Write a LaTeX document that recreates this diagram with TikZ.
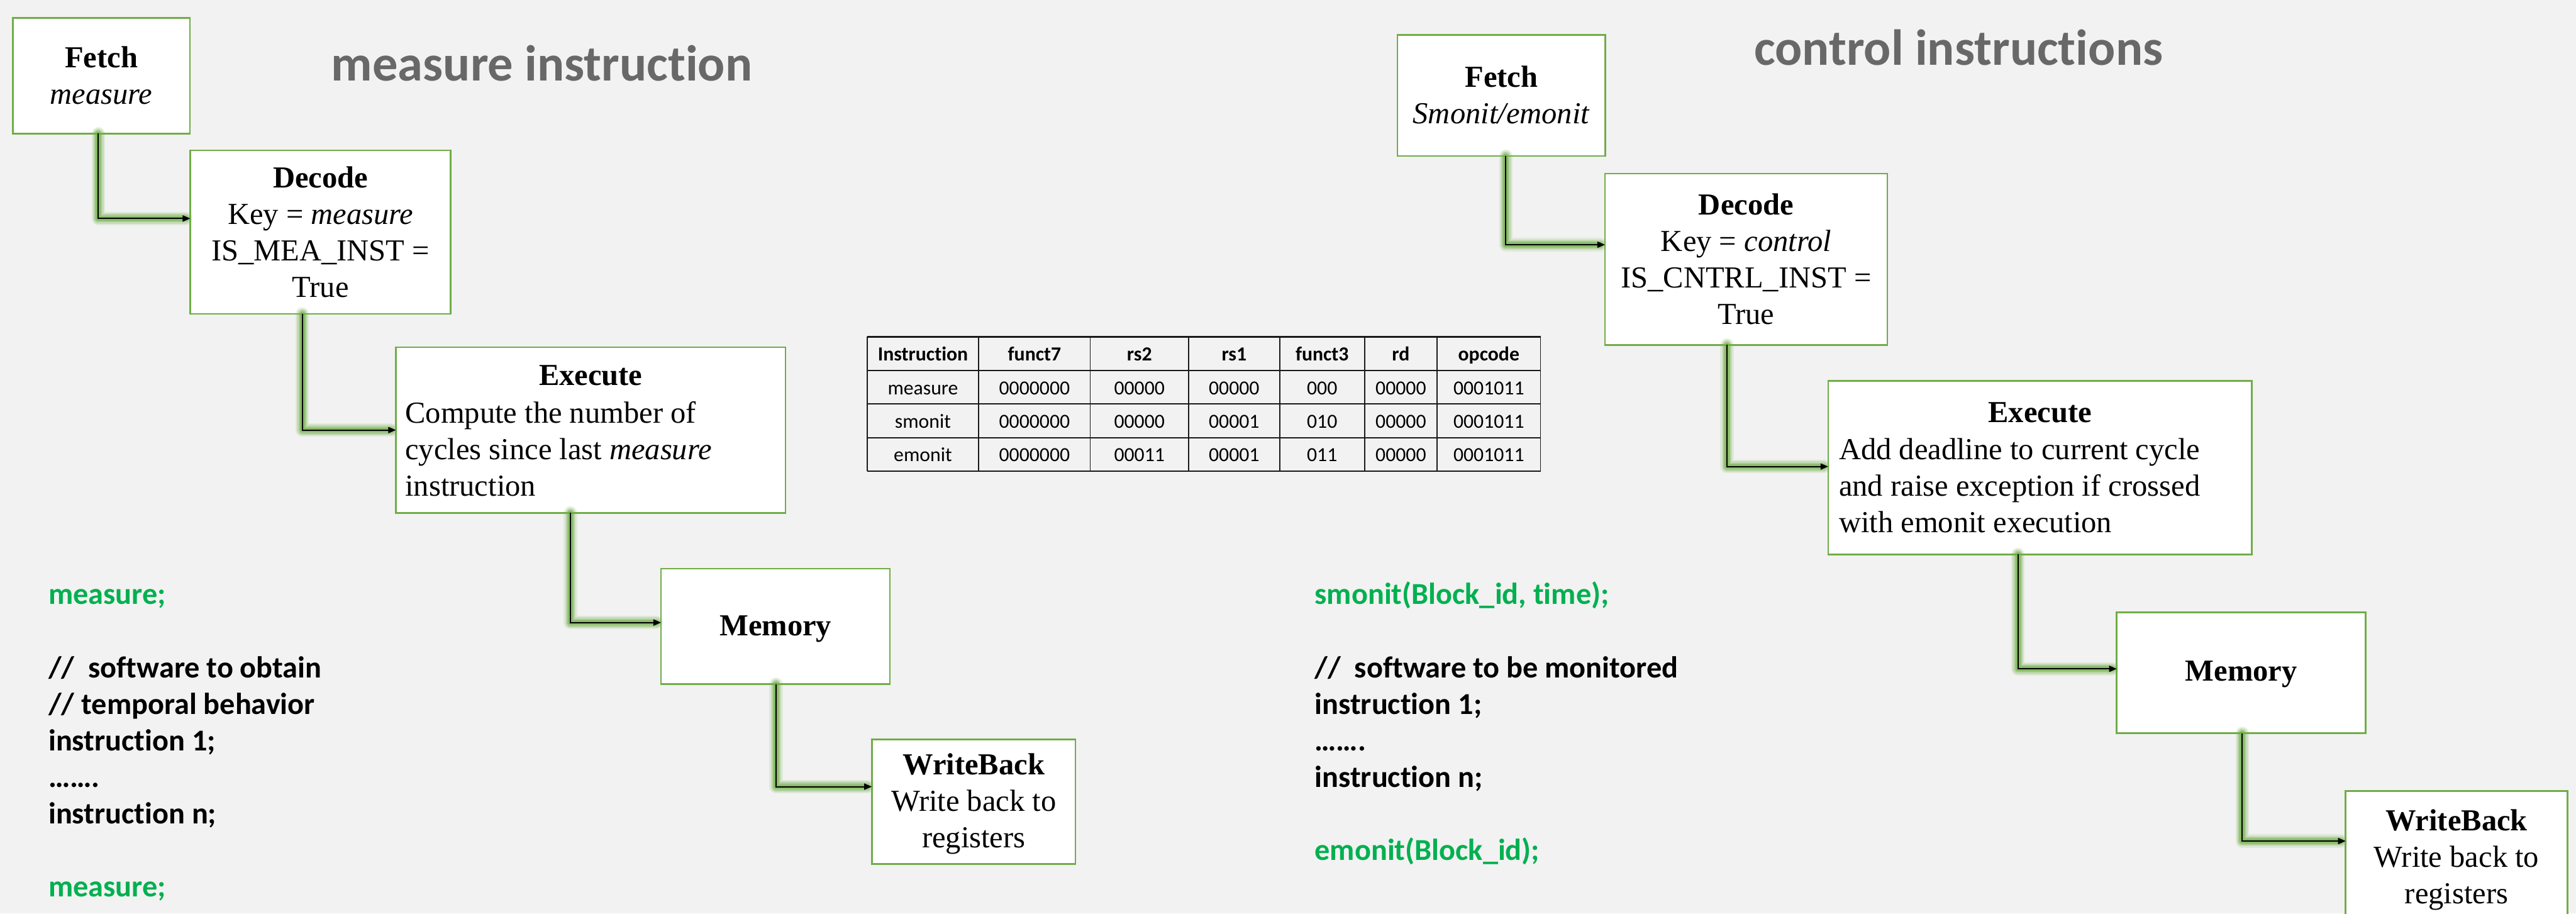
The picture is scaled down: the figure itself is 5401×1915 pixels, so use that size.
\documentclass[tikz,border=0pt]{standalone}
\usepackage{fontspec}
\setmainfont{Liberation Serif}
\newfontfamily\calibrifont[Ligatures={NoCommon,NoRare,NoContextual}]{Carlito}
\usetikzlibrary{arrows.meta,fit}

\definecolor{canvas}{RGB}{242,242,242}
\definecolor{stagegreen}{RGB}{112,173,71}
\definecolor{codegreen}{RGB}{0,176,80}
\definecolor{headgray}{RGB}{104,104,104}

% stacked lines whose baseline is the first line
\newcommand\linesof[2]{\begin{tabular}[t]{@{}#1@{}}#2\end{tabular}}

\tikzset{
  stagebox/.style={draw=stagegreen, line width=0.035cm, fill=white, inner sep=0pt, outer sep=0pt},
  stagetext/.style={inner sep=0pt, anchor=base, text=black, font=\fontsize{18.2pt}{21.8pt}\selectfont},
  codetext/.style={inner sep=0pt, anchor=base west, font=\calibrifont\bfseries\fontsize{18.1pt}{21.8pt}\selectfont},
  headline/.style={inner sep=0pt, anchor=base west, text=headgray, font=\calibrifont\bfseries\fontsize{30.2pt}{36pt}\selectfont},
  cell/.style={inner sep=0pt, anchor=base, font=\calibrifont\fontsize{11.9pt}{14pt}\selectfont},
  headcell/.style={inner sep=0pt, anchor=base, font=\calibrifont\bfseries\fontsize{11.9pt}{14pt}\selectfont},
  glow/.style={draw=stagegreen, line cap=round, line join=round, shorten >=0.1cm},
  link/.style={draw=black, line width=0.025cm, -{Triangle[length=0.16cm,width=0.13cm]}},
  rowrule/.style={draw=black!90, line width=0.03cm},
  colrule/.style={draw=black!90, line width=0.02cm},
}

% a pipeline stage frame between two corners
\newcommand\stage[3]{\node[stagebox, fit={#2 #3}] (#1) {};}

% soft green halo under an elbow connector, then the connector itself
\newcommand\stagelink[2]{%
  \foreach \w/\o in {0.28/0.14, 0.22/0.22, 0.16/0.36, 0.10/0.55}
    {\draw[glow, line width=\w cm, opacity=\o] #1 |- #2;}
  \draw[link] #1 |- #2;
}

\begin{document}
\begin{tikzpicture}[x=0.01cm, y=-0.01cm]
\useasboundingbox (0,0) rectangle (5401,1915);
\clip (0,0) rectangle (5401,1915);
\fill[canvas] (0,0) rectangle (5401,1915);

% ---------- measure instruction pipeline ----------
\stage{fetchL}{(27,38)}{(398,280)}
\stage{decodeL}{(399,315)}{(945,658)}
\stage{execL}{(830,728)}{(1647,1075)}
\stage{memL}{(1386,1192)}{(1866,1434)}
\stage{wbL}{(1828,1550)}{(2255,1811)}

% ---------- control instructions pipeline ----------
\stage{fetchR}{(2930,73)}{(3366,327)}
\stage{decodeR}{(3365,364)}{(3957,723)}
\stage{execR}{(3833,798)}{(4721,1162)}
\stage{memR}{(4438,1284)}{(4960,1537)}
\stage{wbR}{(4918,1658)}{(5383,1930)}

% ---------- connectors ----------
\stagelink{([xshift=-0.065cm]fetchL.south)}{([yshift=0.285cm]decodeL.west)}
\stagelink{([xshift=-0.38cm]decodeL.south)}{(execL.west)}
\stagelink{([xshift=-0.425cm]execL.south)}{([yshift=0.08cm]memL.west)}
\stagelink{([xshift=0.01cm]memL.south)}{([yshift=0.315cm]wbL.west)}

\stagelink{([xshift=0.09cm]fetchR.south)}{([yshift=0.305cm]decodeR.west)}
\stagelink{([xshift=-0.40cm]decodeR.south)}{([yshift=0.02cm]execR.west)}
\stagelink{([xshift=-0.46cm]execR.south)}{([yshift=0.085cm]memR.west)}
\stagelink{([xshift=0.02cm]memR.south)}{([yshift=0.31cm]wbR.west)}

% ---------- stage texts ----------
\node[stagetext] (fetchLtxt) at (212.5,142) {\linesof{c}{\textbf{Fetch}\\\textit{measure}}};
\node[stagetext] (decodeLtxt) at (672,393) {\linesof{c}{\textbf{Decode}\\Key = \textit{measure}\\IS\_MEA\_INST =\\True}};
\node[stagetext] (execLhead) at (1238.5,808) {\textbf{Execute}};
\node[stagetext, anchor=base west] (execLtxt) at (849,887) {\linesof{l}{Compute the number of\\cycles since last \textit{measure}\\instruction}};
\node[stagetext] (memLtxt) at (1626,1332) {\textbf{Memory}};
\node[stagetext] (wbLtxt) at (2041.5,1624) {\linesof{c}{\textbf{WriteBack}\\Write back to\\registers}};

\node[stagetext] (fetchRtxt) at (3148,183) {\linesof{c}{\textbf{Fetch}\\\textit{Smonit/emonit}}};
\node[stagetext] (decodeRtxt) at (3661,450) {\linesof{c}{\textbf{Decode}\\Key = \textit{control}\\IS\_CNTRL\_INST =\\True}};
\node[stagetext] (execRhead) at (4277,886) {\textbf{Execute}};
\node[stagetext, anchor=base west] (execRtxt) at (3855,963) {\linesof{l}{Add deadline to current cycle\\and raise exception if crossed\\with emonit execution}};
\node[stagetext] (memRtxt) at (4699,1428) {\textbf{Memory}};
\node[stagetext] (wbRtxt) at (5150.5,1741) {\linesof{c}{\textbf{WriteBack}\\Write back to\\registers}};

% ---------- headings ----------
\node[headline] (headL) at (694,169) {measure instruction};
\node[headline] (headR) at (3677,137) {control instructions};

% ---------- code listings ----------
\node[codetext] (codeL) at (101,1267) {\linesof{l}{%
  \textcolor{codegreen}{measure;}\\ \\
  //\ \ software to obtain\\
  // temporal behavior\\
  instruction 1;\\
  …….\\
  instruction n;\\ \\
  \textcolor{codegreen}{measure;}}};
\node[codetext] (codeR) at (2756,1267) {\linesof{l}{%
  \textcolor{codegreen}{smonit(Block\_id, time);}\\ \\
  //\ \ software to be monitored\\
  instruction 1;\\
  …….\\
  instruction n;\\ \\
  \textcolor{codegreen}{emonit(Block\_id);}}};

% ---------- encoding table ----------
\foreach \y in {706,777,847,918,988} \draw[rowrule] (1818,\y) -- (3230,\y);
\foreach \x in {1818,2052,2286,2492,2683,2861,3013,3230} \draw[colrule] (\x,706) -- (\x,988);
\foreach \cx/\h/\a/\b/\c [count=\k] in {
  1935/Instruction/measure/smonit/emonit,
  2169/funct7/0000000/0000000/0000000,
  2389/rs2/00000/00000/00011,
  2587.5/rs1/00000/00001/00001,
  2772/funct3/000/010/011,
  2937/rd/00000/00000/00000,
  3121.5/opcode/0001011/0001011/0001011}{
  \node[headcell] (th\k) at (\cx,756) {\h};
  \node[cell] (ta\k) at (\cx,827) {\a};
  \node[cell] (tb\k) at (\cx,897) {\b};
  \node[cell] (tc\k) at (\cx,967) {\c};
}
\end{tikzpicture}
\end{document}
